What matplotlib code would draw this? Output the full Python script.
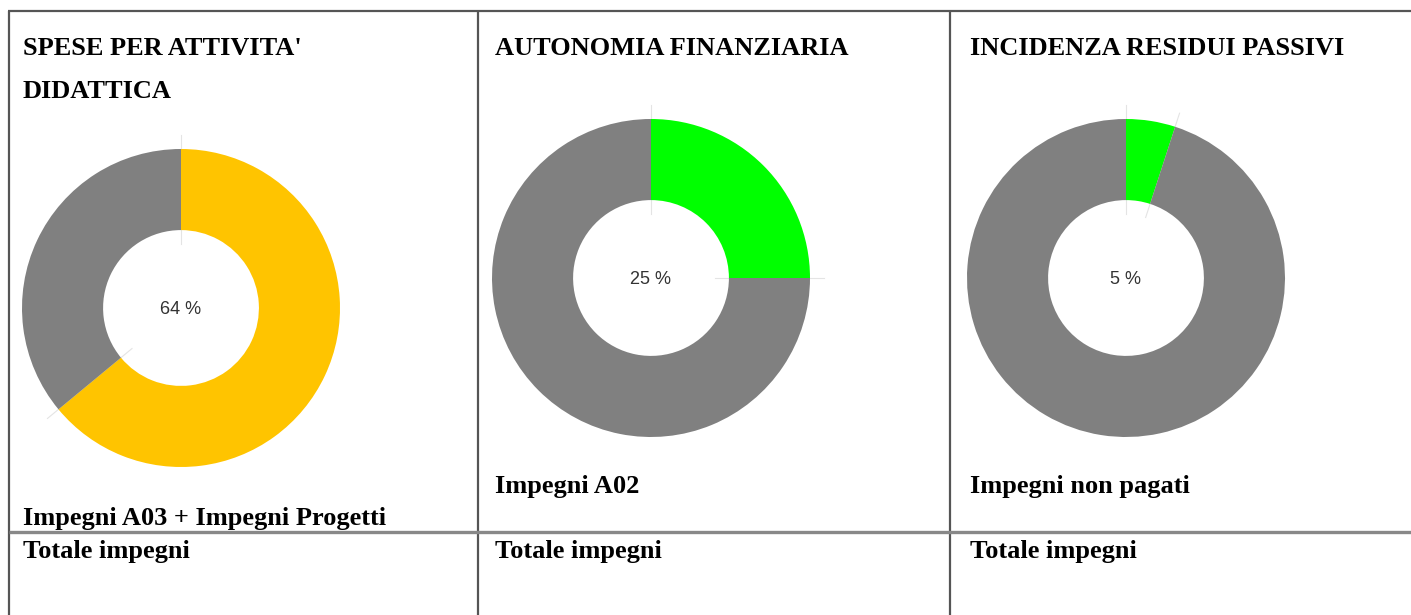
import matplotlib
matplotlib.use("Agg")
import matplotlib.pyplot as plt
import numpy as np

# ---- data ----
titles = [["SPESE PER ATTIVITA'", "DIDATTICA"], ["AUTONOMIA FINANZIARIA"], ["INCIDENZA RESIDUI PASSIVI"]]
numerators = ["Impegni A03 + Impegni Progetti", "Impegni A02", "Impegni non pagati"]
denominators = ["Totale impegni", "Totale impegni", "Totale impegni"]
percentages = [64, 25, 5]
highlight_colors = ["#FFC400", "#00FF00", "#00FF00"]
rest_color = "#808080"

W, H = 1411, 615
fig = plt.figure(figsize=(W / 100, H / 100), dpi=100)
bg = fig.add_axes([0, 0, 1, 1])
bg.set_xlim(0, W)
bg.set_ylim(H, 0)
bg.axis("off")

# table lines
col_x = [9, 478, 950]
bg.plot([8, W], [11, 11], color="#555555", lw=1.6, solid_capstyle="butt")
for x in col_x:
    bg.plot([x, x], [11, H], color="#555555", lw=1.6, solid_capstyle="butt")
bg.plot([9, W], [532, 532], color="#888888", lw=2.4, solid_capstyle="butt")

serif = dict(family="Liberation Serif", weight="bold", fontsize=19, color="black")
text_x = [23, 495, 970]
num_y = [525, 493, 493]
for i in range(3):
    for j, line in enumerate(titles[i]):
        bg.text(text_x[i], 55 + 43 * j, line, va="baseline", ha="left", **serif)
    bg.text(text_x[i], num_y[i], numerators[i], va="baseline", ha="left", **serif)
    bg.text(text_x[i], 558, denominators[i], va="baseline", ha="left", **serif)

# donuts
centers = [(181, 308), (651, 278), (1126, 278)]
R = 159
for i in range(3):
    cx, cy = centers[i]
    s = 1.25 * R
    ax = fig.add_axes([(cx - s) / W, 1 - (cy + s) / H, 2 * s / W, 2 * s / H])
    p = percentages[i]
    ax.pie([p, 100 - p], colors=[highlight_colors[i], rest_color], startangle=90,
           counterclock=False, radius=1.0,
           wedgeprops=dict(width=0.51, linewidth=0))
    ax.set_xlim(-1.25, 1.25)
    ax.set_ylim(-1.25, 1.25)
    ax.set_aspect("equal")
    for frac in [0, p / 100]:
        a = np.pi / 2 - 2 * np.pi * frac
        r = np.array([0.40, 1.09])
        ax.plot(r * np.cos(a), r * np.sin(a), color="#e4e4e4", lw=0.8, zorder=0)
    ax.text(0, -0.01, f"{p} %", ha="center", va="center", fontsize=13,
            family="Liberation Sans", color="#333333")

fig.savefig("out.png", dpi=100)
